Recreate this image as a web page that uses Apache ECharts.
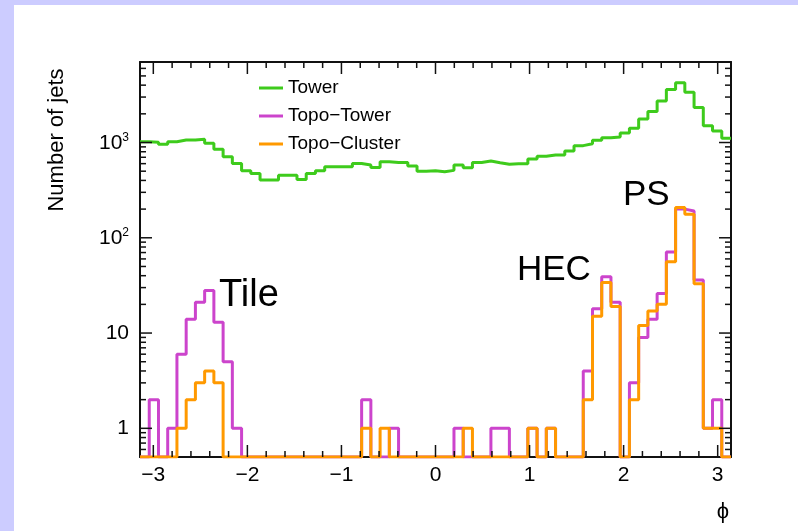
<!DOCTYPE html>
<html>
<head>
<meta charset="utf-8">
<script src="https://cdn.jsdelivr.net/npm/echarts@6/dist/echarts.min.js"></script>
<style>
  html, body { margin: 0; padding: 0; background: #ccccff; }
  #paper { position: absolute; left: 14px; top: 5px; right: 0; bottom: 0; background: #fff; }
  #chart { position: absolute; left: 0; top: 0; width: 798px; height: 531px; }
</style>
</head>
<body>
<div id="paper"></div>
<div id="chart"></div>
<script>
// jet phi distributions, 64 bins over [-pi, pi], log scale
const PHI_MIN = -Math.PI;
const PHI_MAX = Math.PI;
const N_BINS = 64;
const Y_MIN = 0.5;
const Y_MAX = 7000;

const towerCounts = [
  1020, 1005, 957, 1020, 1062, 1062, 1080, 980, 848, 708, 603, 504, 474, 403, 403, 452,
  452, 408, 474, 504, 556, 556, 556, 603, 580, 548, 628, 616, 616, 566, 500, 505,
  493, 510, 580, 543, 618, 639, 613, 590, 598, 598, 670, 716, 739, 739, 813, 927,
  972, 1055, 1122, 1142, 1259, 1410, 1766, 2110, 2733, 3595, 4227, 3375, 2325, 1503, 1321, 1107
];
const topoTowerCounts = [
  0, 2, 0, 1, 6, 14, 21, 28, 13, 5, 1, 0, 0, 0, 0, 0,
  0, 0, 0, 0, 0, 0, 0, 0, 2, 0, 0, 1, 0, 0, 0, 0,
  0, 0, 1, 0, 0, 0, 1, 1, 0, 0, 1, 0, 1, 0, 0, 0,
  4, 18, 39, 21, 0, 3, 9, 14, 26, 71, 200, 191, 36, 1, 2, 0
];
const topoClusterCounts = [
  0, 0, 0, 0, 1, 2, 3, 4, 3, 0, 0, 0, 0, 0, 0, 0,
  0, 0, 0, 0, 0, 0, 0, 0, 1, 0, 1, 0, 0, 0, 0, 0,
  0, 0, 0, 1, 0, 0, 0, 0, 0, 0, 1, 0, 1, 0, 0, 0,
  2, 15, 34, 19, 0, 2, 12, 17, 20, 56, 208, 177, 33, 1, 1, 0
];

const seriesNames = ['Tower', 'Topo\u2212Tower', 'Topo\u2212Cluster'];
const seriesColors = ['#3ecb1c', '#cc44cc', '#ff9900'];

const xMajorTicks = [-3, -2, -1, 0, 1, 2, 3];
const yMajorTicks = [1, 10, 100, 1000];

const FONT = 'Liberation Sans, Arial, Helvetica, sans-serif';
const FRAME = '#111';
const BIN_W = (PHI_MAX - PHI_MIN) / N_BINS;

// histogram outline: one point per bin left edge, drawn as steps
function histPoints(counts) {
  const pts = counts.map((c, i) => [PHI_MIN + i * BIN_W, c > 0 ? c : Y_MIN]);
  const last = counts[counts.length - 1];
  pts.push([PHI_MAX, last > 0 ? last : Y_MIN]);
  return pts;
}

// tick marks on all four frame sides (ROOT style)
// kind: 0 x major, 1 x minor, 2 y major, 3 y minor
const tickItems = [];
xMajorTicks.forEach(v => tickItems.push([v, 1, 0]));
for (let k = -15; k <= 15; k++) {
  if (k % 5 !== 0) tickItems.push([k * 0.2, 1, 1]);
}
yMajorTicks.forEach(v => tickItems.push([0, v, 2]));
[0.1, 1, 10, 100, 1000].forEach(d => {
  for (let m = 2; m <= 9; m++) {
    const v = m * d;
    if (v > Y_MIN && v < Y_MAX) tickItems.push([0, v, 3]);
  }
});

function renderTick(params, api) {
  const cs = params.coordSys;
  const kind = api.value(2);
  const style = { stroke: FRAME, lineWidth: 1.5 };
  if (kind < 2) {
    const x = api.coord([api.value(0), 1])[0];
    const len = kind === 0 ? 12 : 6;
    const yb = cs.y + cs.height;
    return {
      type: 'group',
      children: [
        { type: 'line', shape: { x1: x, y1: yb, x2: x, y2: yb - len }, style },
        { type: 'line', shape: { x1: x, y1: cs.y, x2: x, y2: cs.y + len }, style }
      ]
    };
  }
  const y = api.coord([0, api.value(1)])[1];
  const len = kind === 2 ? 12 : 6;
  const xr = cs.x + cs.width;
  return {
    type: 'group',
    children: [
      { type: 'line', shape: { x1: cs.x, y1: y, x2: cs.x + len, y2: y }, style },
      { type: 'line', shape: { x1: xr, y1: y, x2: xr - len, y2: y }, style }
    ]
  };
}

function fmtPhi(v) {
  const r = Math.round(v);
  if (Math.abs(v - r) > 1e-6) return '';
  return r < 0 ? '\u2212' + (-r) : String(r);
}

function fmtLog(v) {
  const lg = Math.log10(v);
  const e = Math.round(lg);
  if (Math.abs(lg - e) > 1e-6) return '';
  if (e === 0) return '1';
  if (e === 1) return '10';
  return '{b|10}{s|' + e + '}';
}

const frameAxis = {
  axisLine: { show: true, onZero: false, lineStyle: { color: FRAME, width: 2 } },
  axisTick: { show: false },
  minorTick: { show: false },
  splitLine: { show: false }
};

const chart = echarts.init(document.getElementById('chart'));
chart.setOption({
  animation: false,
  backgroundColor: 'transparent',
  grid: { left: 140, right: 67, top: 62, bottom: 74 },
  xAxis: [
    Object.assign({
      type: 'value', min: PHI_MIN, max: PHI_MAX, splitNumber: 6, minInterval: 1, maxInterval: 1,
      axisLabel: {
        margin: 8, fontSize: 21, color: '#000', fontFamily: FONT,
        showMinLabel: false, showMaxLabel: false, formatter: fmtPhi
      }
    }, frameAxis),
    Object.assign({
      type: 'value', position: 'top', min: PHI_MIN, max: PHI_MAX,
      axisLabel: { show: false }
    }, frameAxis)
  ],
  yAxis: [
    Object.assign({
      type: 'log', logBase: 10, min: Y_MIN, max: Y_MAX,
      axisLabel: {
        margin: 11, fontSize: 21, color: '#000', fontFamily: FONT,
        showMinLabel: false, showMaxLabel: false, formatter: fmtLog,
        rich: {
          b: { fontSize: 21, fontFamily: FONT, color: '#000', lineHeight: 22, verticalAlign: 'bottom' },
          s: { fontSize: 12, fontFamily: FONT, color: '#000', lineHeight: 22, verticalAlign: 'top', padding: [0, 0, 8, 0] }
        }
      }
    }, frameAxis),
    Object.assign({
      type: 'log', logBase: 10, position: 'right', min: Y_MIN, max: Y_MAX,
      axisLabel: { show: false }
    }, frameAxis)
  ],
  legend: {
    orient: 'vertical', left: 254, top: 72,
    itemWidth: 24, itemHeight: 3, itemGap: 6, icon: 'rect',
    textStyle: { fontSize: 19, lineHeight: 22, color: '#000', fontFamily: FONT },
    data: seriesNames
  },
  series: [
    [towerCounts, 0], [topoTowerCounts, 1], [topoClusterCounts, 2]
  ].map(([counts, i]) => ({
    name: seriesNames[i],
    type: 'line',
    step: 'end',
    data: histPoints(counts),
    symbol: 'none',
    color: seriesColors[i],
    lineStyle: { color: seriesColors[i], width: 3 },
    z: 3 + i
  })).concat([{
    type: 'custom',
    renderItem: renderTick,
    data: tickItems,
    encode: { x: 0, y: 1 },
    silent: true,
    z: 10
  }]),
  graphic: [
    { type: 'text', left: 219, top: 277, style: { text: 'Tile', font: '38px ' + FONT, fill: '#000' } },
    { type: 'text', left: 517, top: 253, style: { text: 'HEC', font: '35px ' + FONT, fill: '#000' } },
    { type: 'text', left: 623, top: 178, style: { text: 'PS', font: '35px ' + FONT, fill: '#000' } },
    {
      type: 'text', x: 57, y: 140, rotation: Math.PI / 2,
      style: { text: 'Number of jets', font: '22px ' + FONT, fill: '#000', align: 'center', verticalAlign: 'middle' }
    },
    { type: 'text', x: 723, y: 512, style: { text: '\u03d5', font: '22px ' + FONT, fill: '#000', align: 'center', verticalAlign: 'middle' } }
  ]
});
</script>
</body>
</html>
